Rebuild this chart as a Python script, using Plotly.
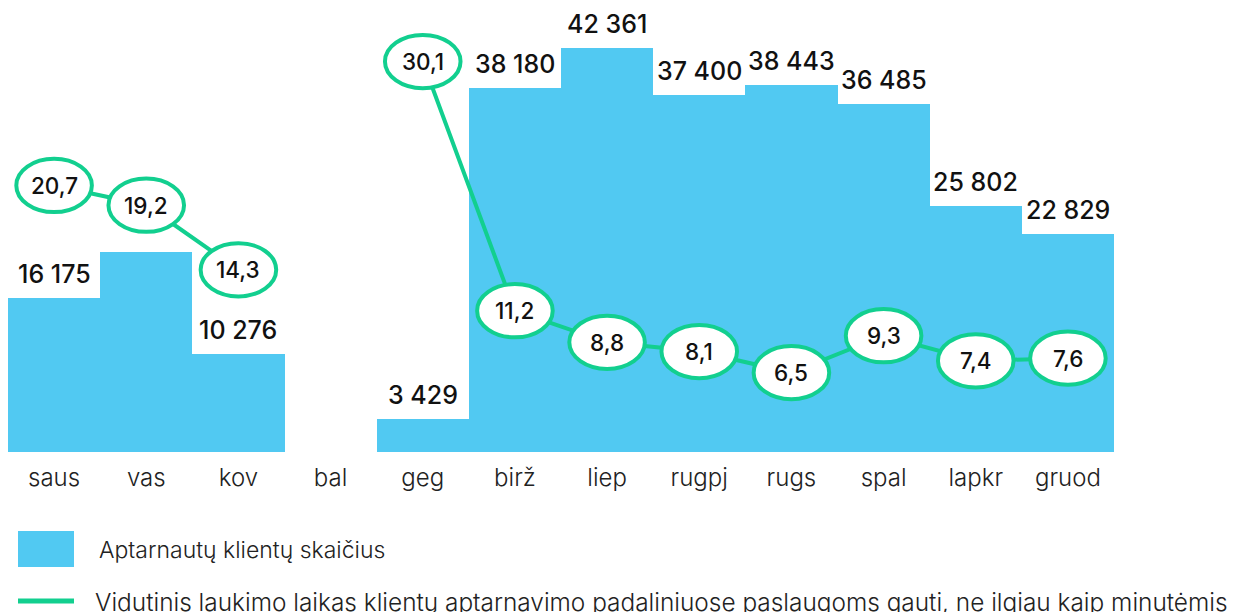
import plotly.graph_objects as go

months = ["saus", "vas", "kov", "bal", "geg", "birž", "liep", "rugpj", "rugs", "spal", "lapkr", "gruod"]
clients = [16175, 20960, 10276, None, 3429, 38180, 42361, 37400, 38443, 36485, 25802, 22829]
client_labels = ["16 175", "", "10 276", "", "3 429", "38 180", "42 361", "37 400", "38 443", "36 485", "25 802", "22 829"]
wait_minutes = [20.7, 19.2, 14.3, None, 30.1, 11.2, 8.8, 8.1, 6.5, 9.3, 7.4, 7.6]

BAR_COLOR = "#51C9F2"
GREEN = "#12CF8F"
FONT = "Inter"

xs = list(range(len(months)))

fig = go.Figure()
fig.add_trace(go.Bar(
    x=xs, y=clients, marker=dict(color=BAR_COLOR, line=dict(width=0)),
    width=1.0, hoverinfo="skip", showlegend=False,
))
fig.add_trace(go.Scatter(
    x=xs, y=wait_minutes, yaxis="y2", mode="lines",
    line=dict(color=GREEN, width=4), connectgaps=False,
    hoverinfo="skip", showlegend=False,
))

annotations = []
shapes = []
# bar labels
for x, v, lab in zip(xs, clients, client_labels):
    if v is None or not lab:
        continue
    annotations.append(dict(
        x=x, y=v, xref="x", yref="y", text=lab, showarrow=False,
        yanchor="middle", xanchor="center", yshift=24,
        font=dict(family=FONT, size=25, color="#111111", weight=500),
    ))
# ellipse markers for the line
for x, v in zip(xs, wait_minutes):
    if v is None:
        continue
    shapes.append(dict(
        type="circle", xref="x", yref="y2",
        x0=x - 0.41, x1=x + 0.41, y0=v - 2.02, y1=v + 2.02,
        fillcolor="white", line=dict(color=GREEN, width=4), layer="above",
    ))
    annotations.append(dict(
        x=x, y=v, xref="x", yref="y2", text=f"{v:.1f}".replace(".", ","),
        showarrow=False, xanchor="center", yanchor="middle",
        font=dict(family=FONT, size=22.5, color="#111111", weight=500),
    ))

# custom legend (paper coords: plot area x 8..1114 px, y 0..452 px)
def px_x(p):
    return (p - 8) / 1106.0

def px_y(p):
    return (452 - p) / 452.0

shapes.append(dict(type="rect", xref="paper", yref="paper",
                   x0=px_x(18), x1=px_x(74), y0=px_y(567), y1=px_y(531),
                   fillcolor=BAR_COLOR, line=dict(width=0), layer="above"))
shapes.append(dict(type="line", xref="paper", yref="paper",
                   x0=px_x(18), x1=px_x(74), y0=px_y(601), y1=px_y(601),
                   line=dict(color=GREEN, width=5), layer="above"))
annotations.append(dict(x=px_x(97), y=px_y(550), xref="paper", yref="paper",
                        text="Aptarnautų klientų skaičius", showarrow=False,
                        xanchor="left", yanchor="middle",
                        font=dict(family=FONT, size=23, color="#222222", weight=300)))
annotations.append(dict(x=px_x(93), y=px_y(602), xref="paper", yref="paper",
                        text="Vidutinis laukimo laikas klientų aptarnavimo padaliniuose paslaugoms gauti, ne ilgiau kaip minutėmis",
                        showarrow=False, xanchor="left", yanchor="middle",
                        font=dict(family=FONT, size=24.4, color="#222222", weight=300)))

fig.update_layout(
    width=1248, height=612,
    margin=dict(l=8, r=134, t=0, b=160, pad=0),
    paper_bgcolor="white", plot_bgcolor="white",
    bargap=0,
    xaxis=dict(range=[-0.5, 11.5], tickvals=xs, ticktext=months,
               showgrid=False, zeroline=False, showline=False,
               ticks="", ticklabelstandoff=9,
               tickfont=dict(family=FONT, size=24, color="#222222", weight=300)),
    yaxis=dict(range=[0, 47400], visible=False, showgrid=False, zeroline=False),
    yaxis2=dict(range=[0.48, 34.77], overlaying="y", visible=False,
                showgrid=False, zeroline=False),
    shapes=shapes, annotations=annotations,
    showlegend=False,
)

fig.write_html("out.html", config={"displayModeBar": False},
               post_script="document.body.style.margin='0';document.body.style.overflow='hidden';")
